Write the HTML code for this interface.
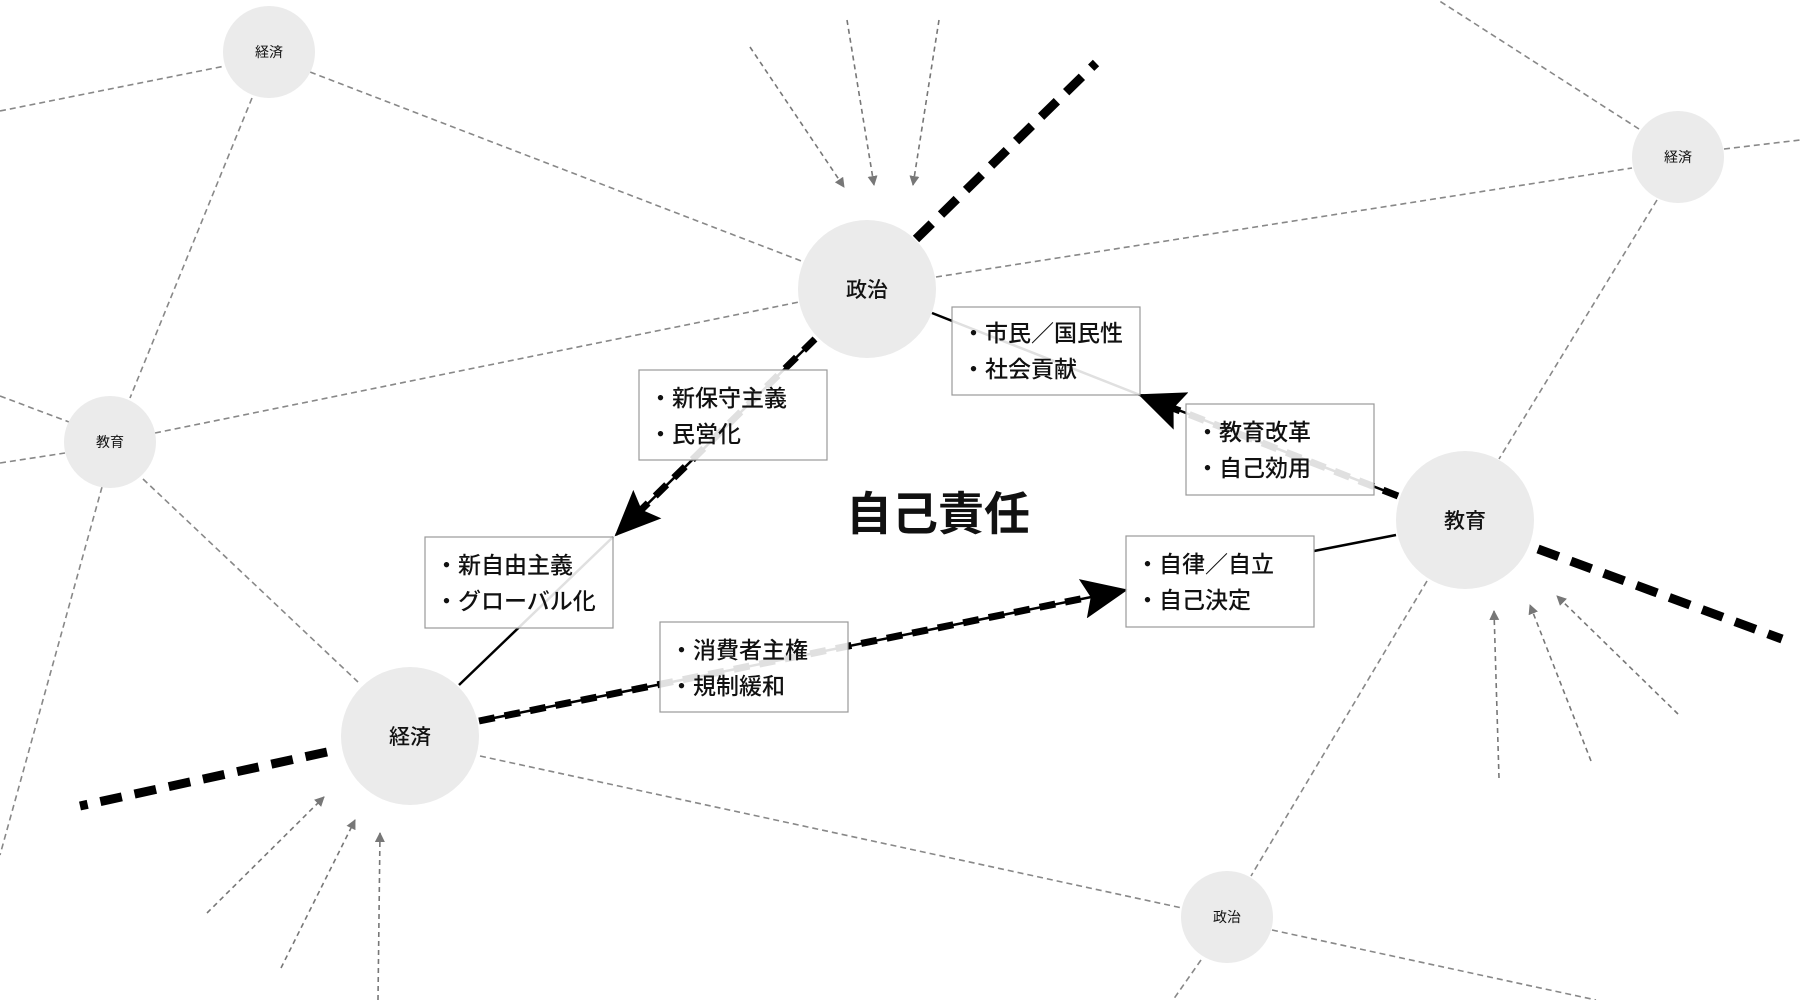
<!DOCTYPE html>
<html><head><meta charset="utf-8"><style>
html,body{margin:0;padding:0;background:#fff;}
svg{display:block;}
text{font-family:"Liberation Sans","Noto Sans CJK JP",sans-serif;}
</style></head><body>
<svg width="1800" height="1000" viewBox="0 0 1800 1000" xmlns="http://www.w3.org/2000/svg">
<defs>
<marker id="big" markerUnits="userSpaceOnUse" markerWidth="48" markerHeight="40" refX="44" refY="20" orient="auto"><polygon points="0,0 46,20 0,40 8,20" fill="#000"/></marker>
<marker id="sm" markerUnits="userSpaceOnUse" markerWidth="10" markerHeight="10" refX="9" refY="5" orient="auto"><polygon points="0,0 10,5 0,10" fill="#777"/></marker>
</defs>
<g stroke="#888" stroke-width="1.6" stroke-dasharray="6 4" fill="none">
<line x1="0" y1="111" x2="225" y2="66"/>
<line x1="310" y1="72" x2="804" y2="262"/>
<line x1="252" y1="98" x2="130" y2="398"/>
<line x1="0" y1="396" x2="69" y2="422"/>
<line x1="0" y1="463" x2="65" y2="453"/>
<line x1="155" y1="433" x2="799" y2="302"/>
<line x1="143" y1="479" x2="358" y2="682"/>
<line x1="102" y1="487" x2="0" y2="855"/>
<line x1="936" y1="277" x2="1632" y2="168"/>
<line x1="1639" y1="129" x2="1438" y2="0"/>
<line x1="1724" y1="149" x2="1800" y2="140"/>
<line x1="1657" y1="200" x2="1499" y2="459"/>
<line x1="1427" y1="581" x2="1251" y2="876"/>
<line x1="1201" y1="960" x2="1173" y2="1000"/>
<line x1="1272" y1="930" x2="1596" y2="1000"/>
<line x1="480" y1="756" x2="1182" y2="908"/>
</g>
<g stroke="#777" stroke-width="1.6" stroke-dasharray="5 4" fill="none" marker-end="url(#sm)">
<line x1="750" y1="47" x2="844" y2="187"/>
<line x1="847" y1="20" x2="874" y2="185"/>
<line x1="939" y1="20" x2="913" y2="185"/>
<line x1="1499" y1="778" x2="1494" y2="611"/>
<line x1="1591" y1="761" x2="1530" y2="605"/>
<line x1="1678" y1="714" x2="1557" y2="596"/>
<line x1="207" y1="913" x2="324" y2="797"/>
<line x1="281" y1="968" x2="355" y2="820"/>
<line x1="378" y1="1000" x2="380" y2="833"/>
</g>
<g stroke="#000" stroke-width="9" stroke-dasharray="22 13" fill="none">
<line x1="916" y1="239" x2="1096" y2="63"/>
<line x1="1538" y1="549" x2="1782" y2="639"/>
<line x1="327" y1="752" x2="80" y2="806"/>
</g>
<g fill="#ebebeb">
<circle cx="269" cy="52" r="46"/>
<circle cx="1678" cy="157" r="46"/>
<circle cx="110" cy="442" r="46"/>
<circle cx="1227" cy="917" r="46"/>
<circle cx="867" cy="289" r="69"/>
<circle cx="1465" cy="520" r="69"/>
<circle cx="410" cy="736" r="69"/>
</g>
<g stroke="#000" stroke-width="2.5" fill="none">
<line x1="459" y1="685" x2="613" y2="537"/>
<line x1="932" y1="313" x2="1140" y2="395"/>
<line x1="1396" y1="535" x2="1314" y2="551"/>
<line x1="815" y1="339" x2="616" y2="535" marker-end="url(#big)"/>
<line x1="1398" y1="496" x2="1140" y2="395" marker-end="url(#big)"/>
<line x1="479" y1="721" x2="1126" y2="590" marker-end="url(#big)"/>
</g>
<g stroke="#000" stroke-width="7" stroke-dasharray="16 10" fill="none">
<line x1="815" y1="339" x2="640" y2="511"/>
<line x1="1398" y1="496" x2="1170" y2="407"/>
<line x1="479" y1="721" x2="1095" y2="596"/>
</g>
<g fill="#fff" fill-opacity="0.88" stroke="#999" stroke-width="1.2">
<rect x="952" y="307" width="188" height="88"/>
<rect x="639" y="370" width="188" height="90"/>
<rect x="1186" y="404" width="188" height="91"/>
<rect x="425" y="537" width="188" height="91"/>
<rect x="1126" y="536" width="188" height="91"/>
<rect x="660" y="622" width="188" height="90"/>
</g>
<g font-size="23" font-weight="500" fill="#111">
<text x="962" y="341">・市民／国民性</text><text x="962" y="377">・社会貢献</text>
<text x="649" y="406">・新保守主義</text><text x="649" y="442">・民営化</text>
<text x="1196" y="440">・教育改革</text><text x="1196" y="476">・自己効用</text>
<text x="435" y="573">・新自由主義</text><text x="435" y="609">・グローバル化</text>
<text x="1136" y="572">・自律／自立</text><text x="1136" y="608">・自己決定</text>
<text x="670" y="658">・消費者主権</text><text x="670" y="694">・規制緩和</text>
</g>
<g text-anchor="middle" fill="#111">
<text x="867" y="297" font-size="21" font-weight="500">政治</text>
<text x="1465" y="528" font-size="21" font-weight="500">教育</text>
<text x="410" y="744" font-size="21" font-weight="500">経済</text>
<text x="269" y="57" font-size="14">経済</text>
<text x="1678" y="162" font-size="14">経済</text>
<text x="110" y="447" font-size="14">教育</text>
<text x="1227" y="922" font-size="14">政治</text>
<text x="938" y="530" font-size="46" font-weight="bold">自己責任</text>
</g>
</svg>
</body></html>
